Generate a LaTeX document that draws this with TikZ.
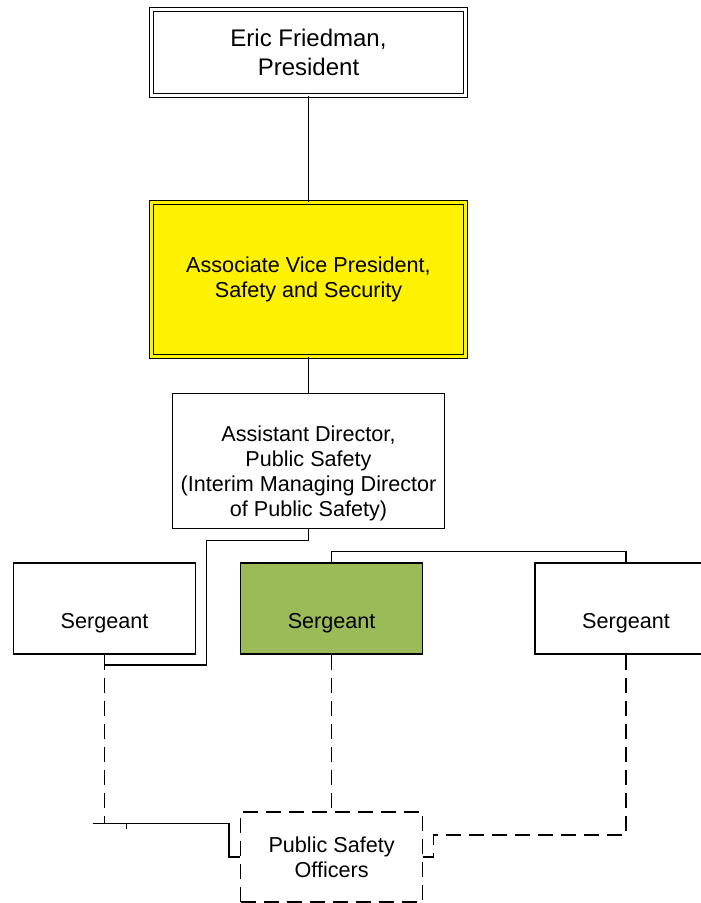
\documentclass[tikz,border=0pt]{standalone}
\usepackage{fontspec}
\setmainfont{Liberation Sans}
\definecolor{sgtgreen}{RGB}{155,187,89}

\begin{document}
\begin{tikzpicture}[x=1pt,y=-1pt,
	font=\fontsize{21.6}{25}\selectfont,
	box/.style={draw, line width=1.4pt, align=center, inner sep=0pt, minimum width=182pt, minimum height=91pt},
	dbox/.style={box, line width=1.2pt, double, double distance=3pt, minimum width=313.6pt},
	lowtext/.style={text height=39.6pt, text depth=0pt},
	link/.style={line width=1.3pt},
	dlink/.style={line width=1.3pt, dash pattern=on 15pt off 8pt}]
	\useasboundingbox (0,0) rectangle (701,903);
	\clip (0,0) rectangle (701,903);
	% top of the chart
	\node[dbox, minimum height=85.6pt, font=\fontsize{24}{29}\selectfont] (pres) at (308.5,52.5) {Eric Friedman,\\President};
	\node[dbox, double=yellow, fill=yellow, minimum height=153.6pt] (avp) at (308.5,279.5) {Associate Vice President,\\Safety and Security};
	\node[box, minimum width=272pt, minimum height=135pt] (asst) at (308.5,461) {\rule{0pt}{39.5pt}Assistant Director,\\Public Safety\\(Interim Managing Director\\of Public Safety)};
	% sergeants
	\foreach \n/\x/\c in {sgtL/104.5/white, sgtM/331.6/sgtgreen, sgtR/626/white}
		\node[box, lowtext, fill=\c] (\n) at (\x,608.5) {Sergeant};
	\node[box, dlink, minimum height=90pt] (pso) at (331.6,857) {Public Safety\\Officers};
	\coordinate (lfoot) at (92.7,823.3);
	% solid lines
	\draw[link] (pres) -- (avp);
	\draw[link] (avp) -- (asst);
	\draw[link] (asst.south) -- ++(0,11) -| (206.7,665) -| (sgtL.south);
	\draw[link] (sgtM.north) -- ++(0,-11) -| (sgtR.north);
	\draw[link] (lfoot) -- (229,823.3) |- (pso.west);
	\draw[link] (126.7,823.3) -- ++(0,6);
	% dashed lines
	\draw[dlink] (sgtL.south) -- (sgtL.south |- lfoot);
	\draw[dlink] (sgtM) -- (pso);
	\draw[dlink] (sgtR.south) -- ++(0,180.3) -| (433.3,857) -- (pso.east);
\end{tikzpicture}
\end{document}
